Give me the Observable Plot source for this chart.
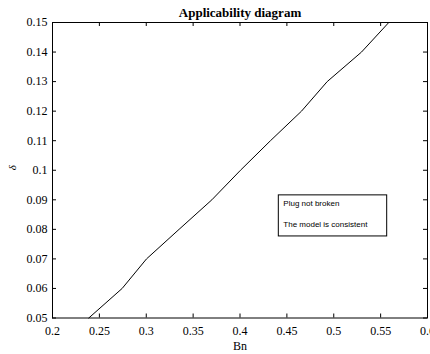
<!DOCTYPE html>
<html><head><meta charset="utf-8">
<script src="https://cdn.jsdelivr.net/npm/d3@7"></script>
<script src="https://cdn.jsdelivr.net/npm/@observablehq/plot@0.6"></script>
<style>html,body{margin:0;padding:0;background:#fff;} svg{display:block;}</style>
</head><body><div id="chart"></div>
<script>
const title = "Applicability diagram";
const xLabel = "Bn";
const yLabel = "δ";
const bn    = [0.2387, 0.2743, 0.3003, 0.335, 0.370, 0.4005, 0.4325, 0.4656, 0.493, 0.5296, 0.5587];
const delta = [0.05,   0.06,   0.07,   0.08,  0.09,  0.10,   0.11,   0.12,   0.13,  0.14,   0.15];
const xTicks = [0.2, 0.25, 0.3, 0.35, 0.4, 0.45, 0.5, 0.55, 0.6];
const yTicks = [0.05, 0.06, 0.07, 0.08, 0.09, 0.1, 0.11, 0.12, 0.13, 0.14, 0.15];
const noteLines = ["Plug not broken", "The model is consistent"];
const noteBox = {x1: 0.4414, x2: 0.557, y1: 0.0776, y2: 0.0915};

const data = bn.map((b, i) => ({bn: b, d: delta[i]}));
const fmt = d => String(+d.toFixed(3));
const serif = "'Liberation Serif', 'DejaVu Serif', serif";
const sans = "'Liberation Sans', Arial, sans-serif";
const W = 430, H = 354, mL = 52, mR = 3, mT = 22, mB = 36.5;
const fw = W - mL - mR, fh = H - mT - mB, tl = 4;

const plot = Plot.plot({
  width: W, height: H,
  marginLeft: mL, marginRight: mR, marginTop: mT, marginBottom: mB,
  style: {fontFamily: serif, fontSize: "12px", background: "#fff", color: "#000"},
  x: {domain: [0.2, 0.6], label: null},
  y: {domain: [0.05, 0.15], label: null},
  marks: [
    Plot.axisX(xTicks, {anchor: "bottom", tickSize: 0, tickPadding: 8, tickFormat: fmt, fontSize: 12, fontFamily: serif}),
    Plot.axisY(yTicks, {anchor: "left", tickSize: 0, tickPadding: 5, tickFormat: fmt, fontSize: 12, fontFamily: serif}),
    Plot.tickX(xTicks, {x: d => d, insetTop: fh - tl, stroke: "#000", strokeWidth: 1}),
    Plot.tickX(xTicks, {x: d => d, insetBottom: fh - tl, stroke: "#000", strokeWidth: 1}),
    Plot.tickY(yTicks, {y: d => d, insetRight: fw - tl, stroke: "#000", strokeWidth: 1}),
    Plot.tickY(yTicks, {y: d => d, insetLeft: fw - tl, stroke: "#000", strokeWidth: 1}),
    Plot.frame({stroke: "#000", strokeWidth: 1}),
    Plot.line(data, {x: "bn", y: "d", stroke: "#000", strokeWidth: 1}),
    Plot.rect([noteBox], {x1: "x1", x2: "x2", y1: "y1", y2: "y2", fill: "#fff", stroke: "#000", strokeWidth: 1}),
    Plot.text([noteLines[0]], {x: noteBox.x1, y: noteBox.y2, text: d => d, textAnchor: "start", dx: 4.5, dy: 8, fontFamily: sans, fontSize: 8}),
    Plot.text([noteLines[1]], {x: noteBox.x1, y: noteBox.y2, text: d => d, textAnchor: "start", dx: 4.5, dy: 29, fontFamily: sans, fontSize: 8}),
    Plot.text([title], {frameAnchor: "top", dy: -14.5, text: d => d, fontWeight: "bold", fontSize: 13, fontFamily: serif}),
    Plot.text([xLabel], {frameAnchor: "bottom", dy: 32, text: d => d, fontSize: 12, fontFamily: serif}),
    Plot.text([yLabel], {frameAnchor: "left", dx: -40, rotate: -90, text: d => d, fontStyle: "italic", fontSize: 11, fontFamily: serif})
  ]
});
document.getElementById("chart").appendChild(plot);
</script>
</body></html>
